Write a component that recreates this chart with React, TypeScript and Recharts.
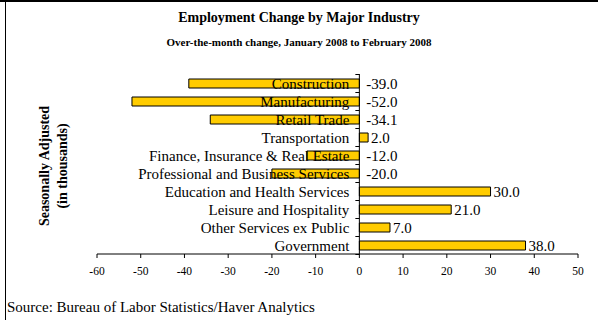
import { Bar, BarChart, LabelList, ReferenceLine, XAxis, YAxis } from "recharts";

const categories = [
    "Construction",
    "Manufacturing",
    "Retail Trade",
    "Transportation",
    "Finance, Insurance & Real Estate",
    "Professional and Business Services",
    "Education and Health Services",
    "Leisure and Hospitality",
    "Other Services ex Public",
    "Government",
];

const changes = [-39.0, -52.0, -34.1, 2.0, -12.0, -20.0, 30.0, 21.0, 7.0, 38.0];

const xTicks = [-60, -50, -40, -30, -20, -10, 0, 10, 20, 30, 40, 50];

const data = categories.map((name, i) => ({ name, value: changes[i] }));

const serif = "'Liberation Serif', 'Times New Roman', serif";
const band = 18;

// zero edge of a bar, whichever way it points
const zeroEdge = (x: number, width: number, v: number) =>
    v < 0 ? Math.max(x, x + width) : Math.min(x, x + width);

const CategoryLabel = (props: any) => {
    const { x, y, width, height, index } = props;
    const v = changes[index];
    const zero = zeroEdge(Number(x), Number(width), v);
    const cy = Number(y) + Number(height) / 2;
    return (
        <g>
            <text
                x={zero - 10}
                y={cy}
                textAnchor="end"
                dominantBaseline="central"
                fontFamily={serif}
                fontSize={15}
                fill="#000"
            >
                {categories[index]}
            </text>
            <line x1={zero - 4} x2={zero} y1={cy - band / 2} y2={cy - band / 2} stroke="#000" />
            {index === categories.length - 1 && (
                <line x1={zero - 4} x2={zero} y1={cy + band / 2} y2={cy + band / 2} stroke="#000" />
            )}
        </g>
    );
};

const ValueLabel = (props: any) => {
    const { x, y, width, height, index } = props;
    const v = changes[index];
    const cy = Number(y) + Number(height) / 2;
    const zero = zeroEdge(Number(x), Number(width), v);
    const end = v < 0 ? zero + 7 : Math.max(Number(x), Number(x) + Number(width)) + 3;
    return (
        <text
            x={end}
            y={cy}
            dominantBaseline="central"
            fontFamily={serif}
            fontSize={15}
            fill="#000"
        >
            {v.toFixed(1)}
        </text>
    );
};

export default function App() {
    return (
        <div style={{ position: "absolute", left: 0, top: 0, width: 598, height: 320, background: "#fff" }}>
            <div style={{ position: "absolute", left: 0, top: 0, width: 598, height: 2, background: "#000" }} />
            <div style={{ position: "absolute", left: 5, top: 2, width: 1, height: 318, background: "#000" }} />

            <div
                style={{
                    position: "absolute",
                    left: 0,
                    width: 598,
                    top: 10,
                    textAlign: "center",
                    fontFamily: serif,
                    fontWeight: "bold",
                    fontSize: 14,
                }}
            >
                Employment Change by Major Industry
            </div>
            <div
                style={{
                    position: "absolute",
                    left: 0,
                    width: 598,
                    top: 36,
                    textAlign: "center",
                    fontFamily: serif,
                    fontWeight: "bold",
                    fontSize: 11,
                }}
            >
                Over-the-month change, January 2008 to February 2008
            </div>

            <div
                style={{
                    position: "absolute",
                    left: 54,
                    top: 166,
                    transform: "translate(-50%, -50%) rotate(-90deg)",
                    whiteSpace: "nowrap",
                    textAlign: "center",
                    fontFamily: serif,
                    fontWeight: "bold",
                    fontSize: 14,
                    lineHeight: "18px",
                }}
            >
                Seasonally Adjusted
                <br />
                (in thousands)
            </div>

            <div
                style={{
                    position: "absolute",
                    left: 7,
                    top: 299,
                    fontFamily: serif,
                    fontSize: 15,
                }}
            >
                Source: Bureau of Labor Statistics/Haver Analytics
            </div>

            <BarChart
                width={598}
                height={320}
                data={data}
                layout="vertical"
                margin={{ top: 74, right: 20, bottom: 36, left: 97 }}
                style={{ position: "absolute", left: 0, top: 0 }}
            >
                <XAxis
                    type="number"
                    domain={[-60, 50]}
                    ticks={xTicks}
                    interval={0}
                    height={30}
                    stroke="#000"
                    tickSize={4}
                    tickMargin={9}
                    tick={{ fontFamily: serif, fontSize: 11.5, fill: "#000" }}
                />
                <YAxis type="category" dataKey="name" width={0} tick={false} axisLine={false} tickLine={false} />
                <ReferenceLine x={0} stroke="#000" />
                <Bar dataKey="value" fill="#FFCC00" stroke="#000" strokeWidth={1} barSize={9} isAnimationActive={false}>
                    <LabelList dataKey="name" content={CategoryLabel} />
                    <LabelList dataKey="value" content={ValueLabel} />
                </Bar>
            </BarChart>
        </div>
    );
}
